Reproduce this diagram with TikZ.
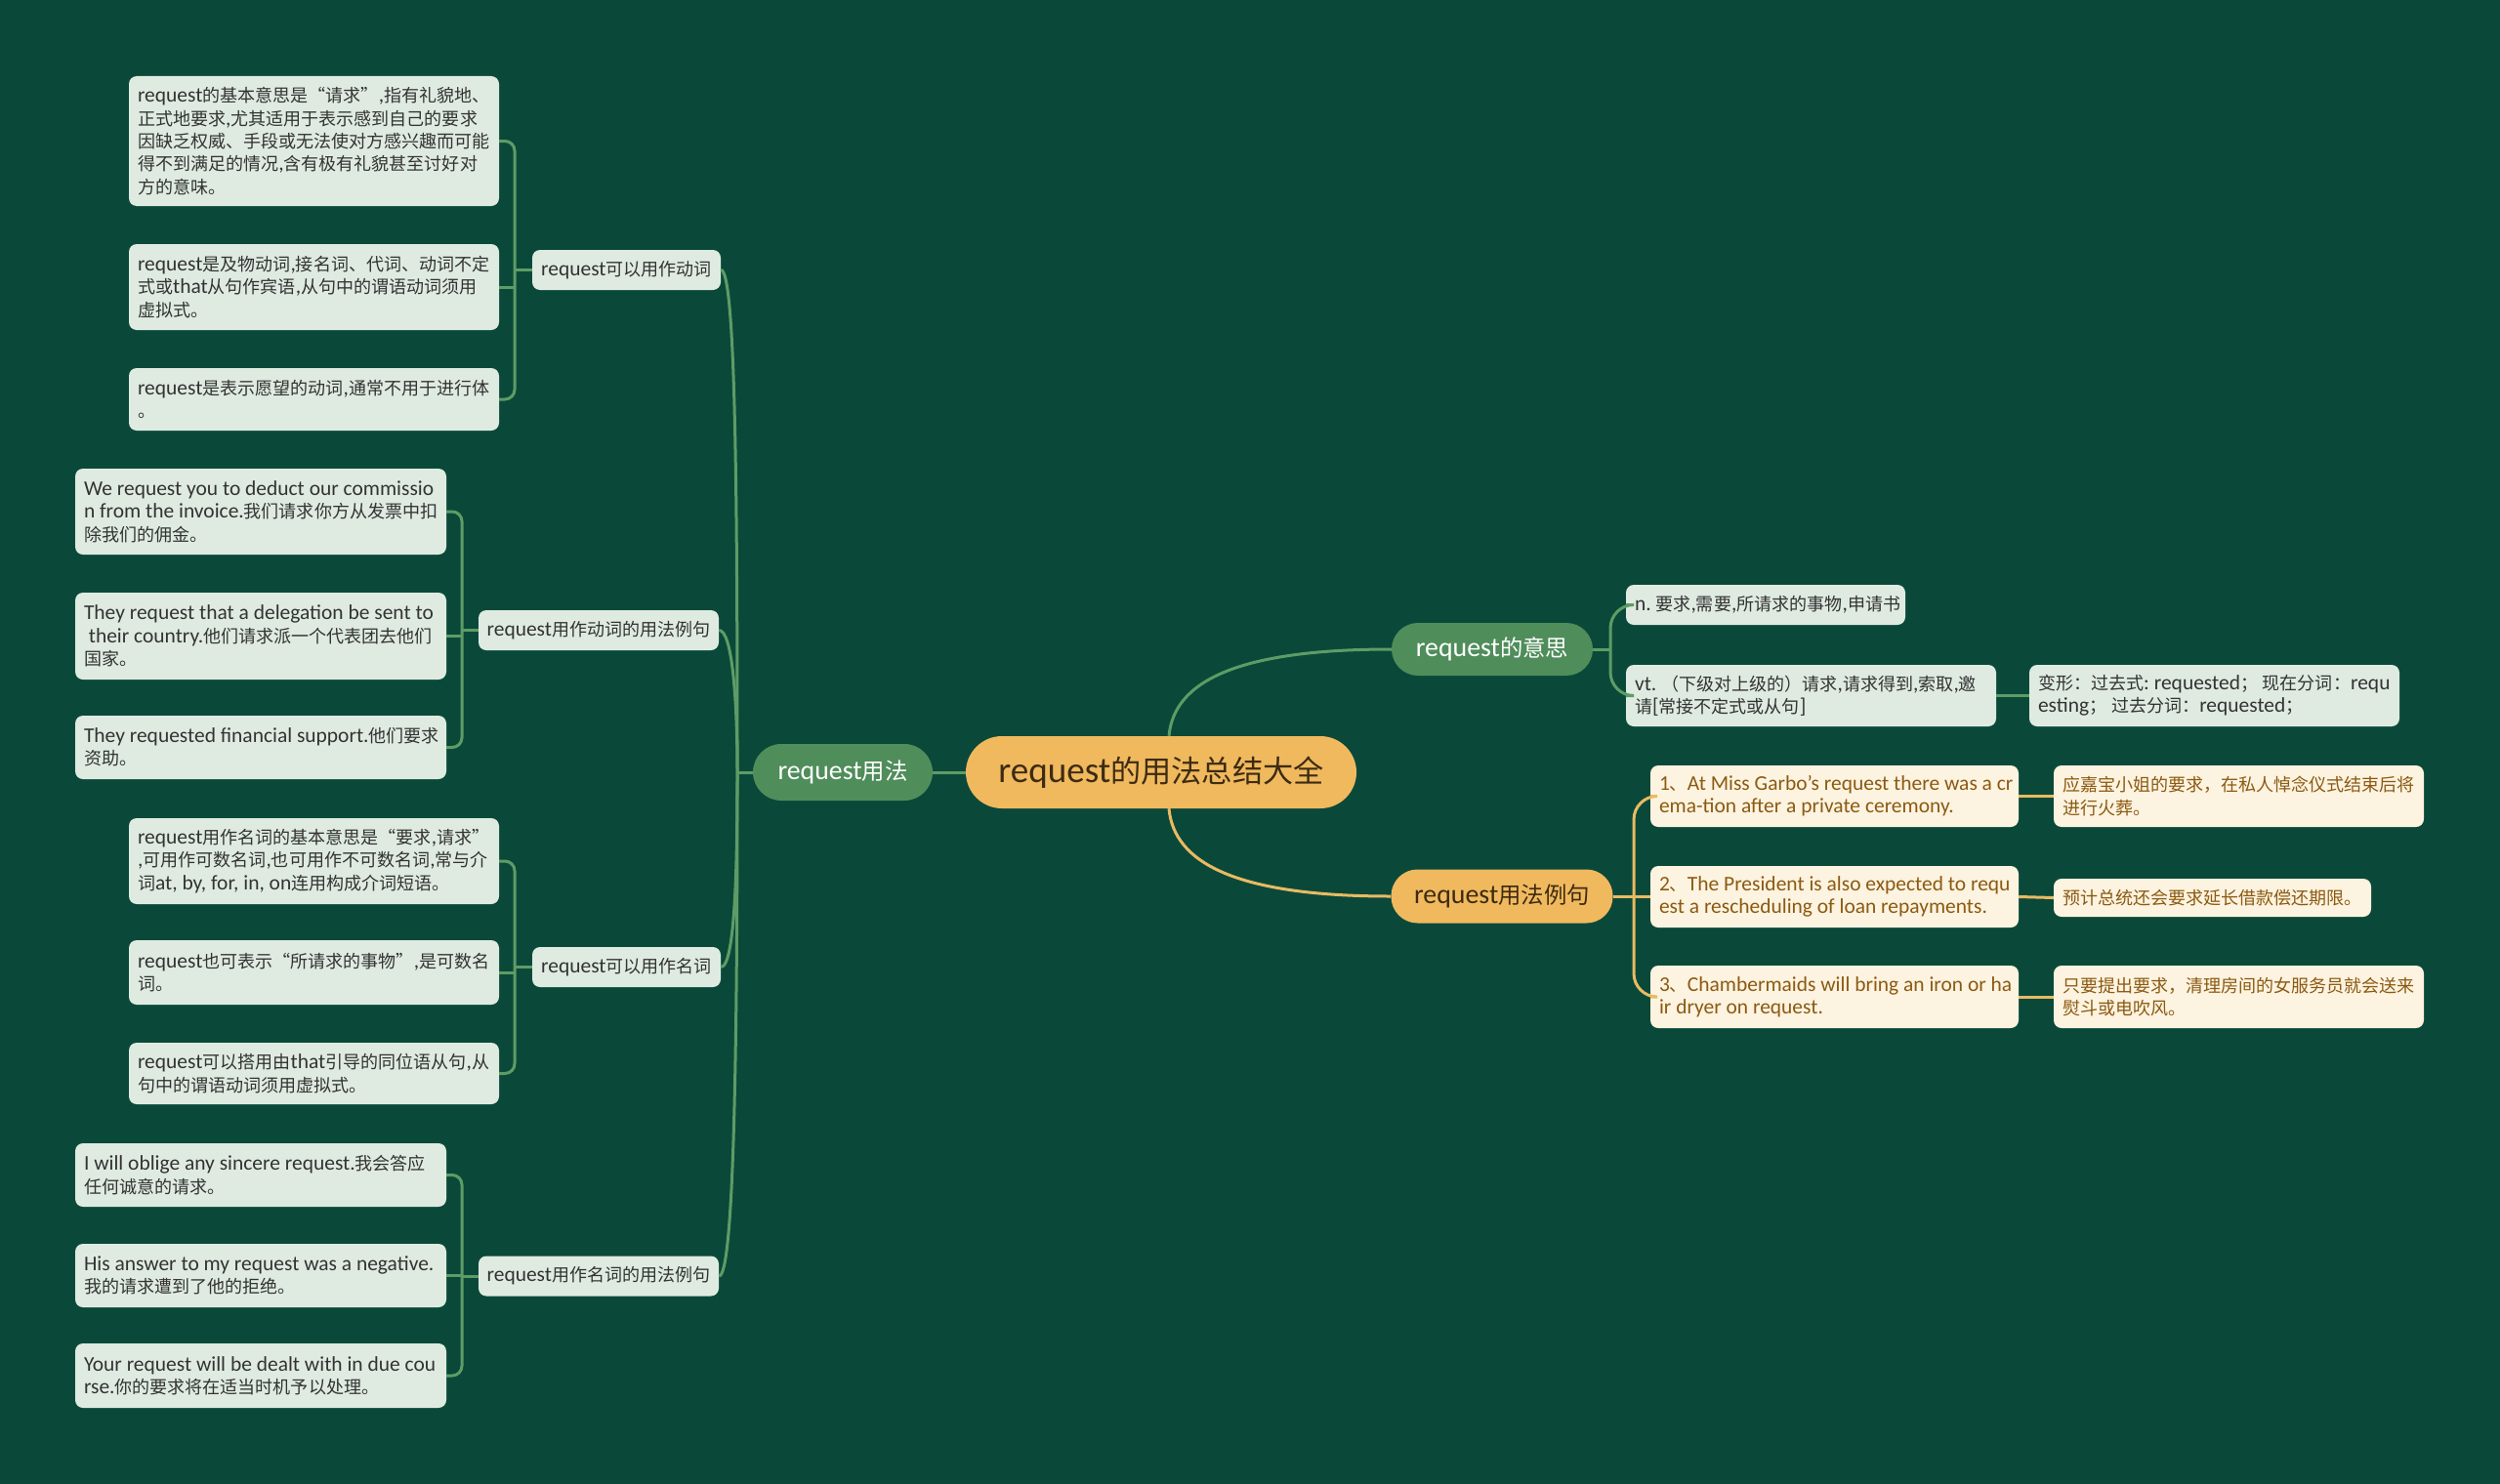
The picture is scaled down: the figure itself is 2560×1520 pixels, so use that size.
\documentclass[tikz,border=0pt]{standalone}
\usepackage{fontspec}
\setmainfont[Scale=1.16]{Carlito}
\newfontfamily\cjkfont[Scale=0.975]{Noto Sans CJK SC}
\newcommand\latinfont{\rmfamily}
\XeTeXinterchartokenstate=1
\newXeTeXintercharclass\cjkcls
\makeatletter
\newcommand\setcjkrange[2]{%
  \count@=#1\relax
  \loop
    \XeTeXcharclass\count@=\cjkcls
    \advance\count@ by 1\relax
  \ifnum\count@<#2\relax\repeat}
\makeatother
\setcjkrange{"4E00}{"A000}
\setcjkrange{"3000}{"3040}
\setcjkrange{"FF00}{"FFF0}
\XeTeXcharclass"201C=\cjkcls
\XeTeXcharclass"201D=\cjkcls
\XeTeXinterchartoks 0 \cjkcls = {\cjkfont}
\XeTeXinterchartoks 4095 \cjkcls = {\cjkfont}
\XeTeXinterchartoks \cjkcls 0 = {\latinfont}
\XeTeXinterchartoks \cjkcls 4095 = {\latinfont}
\newcommand\leaftext[2]{\vbox{\hsize=#1\relax\def\rowline##1{\hbox to\hsize{##1\hss}}#2}}
\definecolor{bgc}{HTML}{0A4939}
\definecolor{gcol}{HTML}{5E9C66}
\definecolor{ocol}{HTML}{E9BA63}
\definecolor{leafc}{HTML}{DFEBE1}
\definecolor{leaftxt}{HTML}{333333}
\definecolor{creamc}{HTML}{FCF3E0}
\definecolor{browntxt}{HTML}{8C5A12}
\definecolor{greennode}{HTML}{4F8D5A}
\definecolor{orangec}{HTML}{F0B95E}
\definecolor{roottxt}{HTML}{3D2B12}
\tikzset{
  gline/.style={draw=gcol, line width=3pt},
  oline/.style={draw=ocol, line width=3pt},
  leaf/.style={fill=leafc, rounded corners=8pt, text=leaftxt,
    inner xsep=9pt, inner ysep=0pt, font=\fontsize{18.5}{23.3}\selectfont\frenchspacing},
  cleaf/.style={leaf, fill=creamc, text=browntxt},
  lvtwo/.style={fill=leafc, rounded corners=8pt, text=leaftxt,
    font=\fontsize{18.5}{23.3}\selectfont, inner sep=0pt, minimum height=41pt},
  lvone/.style={rounded corners=27pt, font=\fontsize{24}{29}\selectfont, inner sep=0pt},
}
\begin{document}
\begin{tikzpicture}[x=1pt,y=-1pt]
\fill[bgc] (0,0) rectangle (2560,1520);
\useasboundingbox (0,0) rectangle (2560,1520);

% central and level one
\node[lvone, fill=orangec, text=roottxt, minimum width=400pt, minimum height=74pt,
  rounded corners=37pt, font=\fontsize{32}{40}\selectfont] (root) at (1189,791) {request的用法总结大全};
\node[lvone, fill=greennode, text=white, minimum width=184pt, minimum height=58pt, rounded corners=29pt] (use) at (863,791) {request用法};
\node[lvone, fill=greennode, text=white, minimum width=206pt, minimum height=54pt] (mean) at (1528,665) {request的意思};
\node[lvone, fill=orangec, text=roottxt, minimum width=227pt, minimum height=55pt] (ex) at (1538,918) {request用法例句};

% level two (left)
\node[lvtwo, minimum width=193pt] (verb) at (641.5,276.5) {request可以用作动词};
\node[lvtwo, minimum width=246pt] (vex) at (613,645.5) {request用作动词的用法例句};
\node[lvtwo, minimum width=193pt] (noun) at (641.5,990.5) {request可以用作名词};
\node[lvtwo, minimum width=246pt] (nex) at (613,1307) {request用作名词的用法例句};

% leaves group 1
\node[leaf, minimum height=133pt] (l1a) at (321.5,144.5) {\leaftext{361pt}{\rowline{request的基本意思是“请求”,指有礼貌地、}\rowline{正式地要求,尤其适用于表示感到自己的要求}\rowline{因缺乏权威、手段或无法使对方感兴趣而可能}\rowline{得不到满足的情况,含有极有礼貌甚至讨好对}\rowline{方的意味。}}};
\node[leaf, minimum height=88pt] (l1b) at (321.5,294) {\leaftext{361pt}{\rowline{request是及物动词,接名词、代词、动词不定}\rowline{式或that从句作宾语,从句中的谓语动词须用}\rowline{虚拟式。}}};
\node[leaf, minimum height=64pt] (l1c) at (321.5,409) {\leaftext{361pt}{\rowline{request是表示愿望的动词,通常不用于进行体}\rowline{。}}};

% leaves group 2
\node[leaf, minimum height=88pt] (l2a) at (267,524) {\leaftext{362pt}{\rowline{We request you to deduct our commissio}\rowline{n from the invoice.我们请求你方从发票中扣}\rowline{除我们的佣金。}}};
\node[leaf, minimum height=89pt] (l2b) at (267,651.5) {\leaftext{362pt}{\rowline{They request that a delegation be sent to}\rowline{\ their country.他们请求派一个代表团去他们}\rowline{国家。}}};
\node[leaf, minimum height=65pt] (l2c) at (267,765.5) {\leaftext{362pt}{\rowline{They requested financial support.他们要求}\rowline{资助。}}};

% leaves group 3
\node[leaf, minimum height=88pt] (l3a) at (321.5,882) {\leaftext{361pt}{\rowline{request用作名词的基本意思是“要求,请求”}\rowline{,可用作可数名词,也可用作不可数名词,常与介}\rowline{词at, by, for, in, on连用构成介词短语。}}};
\node[leaf, minimum height=66pt] (l3b) at (321.5,996) {\leaftext{361pt}{\rowline{request也可表示“所请求的事物”,是可数名}\rowline{词。}}};
\node[leaf, minimum height=63pt] (l3c) at (321.5,1099.5) {\leaftext{361pt}{\rowline{request可以搭用由that引导的同位语从句,从}\rowline{句中的谓语动词须用虚拟式。}}};

% leaves group 4
\node[leaf, minimum height=65pt] (l4a) at (267,1203.5) {\leaftext{362pt}{\rowline{I will oblige any sincere request.我会答应}\rowline{任何诚意的请求。}}};
\node[leaf, minimum height=65pt] (l4b) at (267,1306.5) {\leaftext{362pt}{\rowline{His answer to my request was a negative.}\rowline{我的请求遭到了他的拒绝。}}};
\node[leaf, minimum height=66pt] (l4c) at (267,1409) {\leaftext{362pt}{\rowline{Your request will be dealt with in due cou}\rowline{rse.你的要求将在适当时机予以处理。}}};

% right: meaning
\node[leaf, minimum height=41pt] (m1) at (1808,619.5) {\leaftext{268pt}{\rowline{n. 要求,需要,所请求的事物,申请书}}};
\node[leaf, minimum height=63pt] (m2) at (1854.5,712.5) {\leaftext{361pt}{\rowline{vt. （下级对上级的）请求,请求得到,索取,邀}\rowline{请[常接不定式或从句]}}};
\node[leaf, minimum height=63pt] (m3) at (2267.5,712.5) {\leaftext{361pt}{\rowline{变形：过去式: requested； 现在分词：requ}\rowline{esting； 过去分词：requested；}}};

% right: examples
\node[cleaf, minimum height=63pt] (e1) at (1878.5,815.5) {\leaftext{359pt}{\rowline{1、At Miss Garbo's request there was a cr}\rowline{ema-tion after a private ceremony.}}};
\node[cleaf, minimum height=63pt] (e2) at (1878.5,918.5) {\leaftext{359pt}{\rowline{2、The President is also expected to requ}\rowline{est a rescheduling of loan repayments.}}};
\node[cleaf, minimum height=64pt] (e3) at (1878.5,1021) {\leaftext{359pt}{\rowline{3、Chambermaids will bring an iron or ha}\rowline{ir dryer on request.}}};
\node[cleaf, minimum height=63pt] (t1) at (2292.5,815.5) {\leaftext{361pt}{\rowline{应嘉宝小姐的要求，在私人悼念仪式结束后将}\rowline{进行火葬。}}};
\node[cleaf, minimum height=39pt] (t2) at (2265.5,919.5) {\leaftext{307pt}{\rowline{预计总统还会要求延长借款偿还期限。}}};
\node[cleaf, minimum height=64pt] (t3) at (2292.5,1021) {\leaftext{361pt}{\rowline{只要提出要求，清理房间的女服务员就会送来}\rowline{熨斗或电吹风。}}};

% connectors from root
\draw[gline] (root.west) -- (use.east);
\draw[gline] ([xshift=8pt]root.north) .. controls +(5,-55) and +(-160,0) .. (mean.west);
\draw[oline] ([xshift=8pt]root.south) .. controls +(5,55) and +(-160,0) .. (ex.west);

% use -> level two
\coordinate (hub) at (755,791);
\draw[gline] (use.west) -- (hub);
\draw[gline] (verb.east) .. controls +(15,0) and (755,500) .. (hub);
\draw[gline] (vex.east) .. controls +(14,0) and (755,720) .. (hub);
\draw[gline] (noun.east) .. controls +(15,0) and (755,880) .. (hub);
\draw[gline] (nex.east) .. controls +(15,0) and (755,1090) .. (hub);

% brackets left
\coordinate (b1) at (527,276.5);
\draw[gline] (verb.west) -- (b1);
\draw[gline, rounded corners=10pt] (l1a.east) -| (b1) |- (l1c.east);
\draw[gline] (l1b.east) -- (l1b.east -| b1);

\coordinate (b2) at (473,645.5);
\draw[gline] (vex.west) -- (b2);
\draw[gline, rounded corners=10pt] (l2a.east) -| (b2) |- (l2c.east);
\draw[gline] (l2b.east) -- (l2b.east -| b2);

\coordinate (b3) at (527,990.5);
\draw[gline] (noun.west) -- (b3);
\draw[gline, rounded corners=10pt] (l3a.east) -| (b3) |- (l3c.east);
\draw[gline] (l3b.east) -- (l3b.east -| b3);

\coordinate (b4) at (473,1307);
\draw[gline] (nex.west) -- (b4);
\draw[gline, rounded corners=10pt] (l4a.east) -| (b4) |- (l4c.east);
\draw[gline] (l4b.east) -- (l4b.east -| b4);

% brackets right
\coordinate (bm) at (1649,665);
\draw[gline] (mean.east) -- (bm);
\draw[gline, rounded corners=24pt] (m1.west) -| (bm) |- (m2.west);
\draw[gline] (m2.east) -- (m3.west);

\coordinate (be) at (1673,918);
\draw[oline] (ex.east) -- (be);
\draw[oline, rounded corners=24pt] (e1.west) -| (be) |- (e3.west);
\draw[oline] (e2.west) -- (e2.west -| be);
\draw[oline] (e1.east) -- (t1.west);
\draw[oline] (e2.east) -- (t2.west);
\draw[oline] (e3.east) -- (t3.west);
\end{tikzpicture}
\end{document}
